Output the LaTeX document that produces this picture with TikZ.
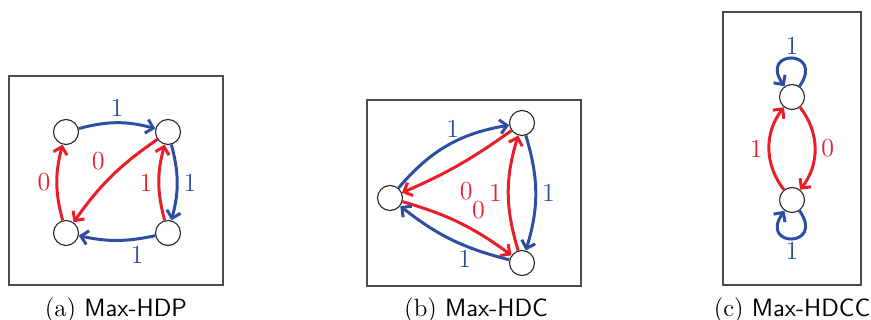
\documentclass[tikz,border=0pt]{standalone}
\usepackage{tikz}
\usetikzlibrary{arrows.meta}
\definecolor{hdblue}{RGB}{46,78,162}
\definecolor{hdred}{RGB}{234,30,40}

\begin{document}
\begin{tikzpicture}[x=0.5pt,y=0.5pt,
  vtx/.style={circle, draw=black!85, line width=0.55pt, minimum size=12.5pt, inner sep=0pt},
  panel/.style={draw=black!70, line width=0.6pt},
  hdarc/.style={line width=1.5pt, -{Straight Barb[length=3.5pt,width=7pt]}},
  bluearc/.style={hdarc, hdblue},
  redarc/.style={hdarc, hdred},
  lbl/.style={font=\fontsize{13}{15}\selectfont, auto, inner sep=2.5pt},
  subcap/.style={font=\fontsize{12.5}{14}\selectfont, anchor=base}]
  % Setup
  \useasboundingbox (0,0) rectangle (871,320);

  % === (a) Max-HDP ===
  \draw[panel] (9,35) rectangle (223,244);
  \node[vtx] (a1) at (66,188) {};
  \node[vtx] (a2) at (168,188) {};
  \node[vtx] (a3) at (66,87) {};
  \node[vtx] (a4) at (168,87) {};
  \draw[bluearc] (a1) to[bend left=15] node[lbl] {1} (a2);
  \draw[bluearc] (a2) to[bend left=15] node[lbl] {1} (a4);
  \draw[bluearc] (a4) to[bend left=12] node[lbl, pos=0.4] {1} (a3);
  \draw[redarc] (a3) to[bend left=15] node[lbl] {0} (a1);
  \draw[redarc] (a4) to[bend left=15] node[lbl] {1} (a2);
  \draw[redarc] (a2) to[bend right=10] node[lbl, swap] {0} (a3);
  \node[subcap] (capa) at (116,3) {(a) \textsf{Max-HDP}};

  % === (b) Max-HDC ===
  \draw[panel] (367,34) rectangle (581,220);
  \node[vtx] (bl) at (390,122) {};
  \node[vtx] (bt) at (522,197) {};
  \node[vtx] (bb) at (522,57) {};
  \draw[bluearc] (bl) to[bend left=20] node[lbl, pos=0.62, inner sep=0pt] {1} (bt);
  \draw[redarc] (bt) to[bend left=6] node[lbl, pos=0.6, inner sep=5pt] {0} (bl);
  \draw[redarc] (bl) to[bend left=10] node[lbl, pos=0.56] {0} (bb);
  \draw[bluearc] (bb) to[bend left=12] node[lbl, pos=0.3, inner sep=0pt] {1} (bl);
  \draw[redarc] (bb) to[bend left=17] node[lbl] {1} (bt);
  \draw[bluearc] (bt) to[bend left=17] node[lbl] {1} (bb);
  \node[subcap] (capb) at (476,3) {(b) \textsf{Max-HDC}};

  % === (c) Max-HDCC ===
  \draw[panel] (723,35) rectangle (861,308);
  \node[vtx] (ct) at (792,223) {};
  \node[vtx] (cb) at (792,120) {};
  \draw[redarc] (ct) to[bend left=38] node[lbl] {0} (cb);
  \draw[redarc] (cb) to[bend left=38] node[lbl] {1} (ct);
  \draw[bluearc] (ct) to[out=55, in=125, loop, min distance=8mm] node[lbl, above, inner sep=1pt] {1} (ct);
  \draw[bluearc] (cb) to[out=-55, in=-125, loop, min distance=8mm] node[lbl, below, inner sep=1pt] {1} (cb);
  \node[subcap] (capc) at (792,3) {(c) \textsf{Max-HDCC}};
\end{tikzpicture}
\end{document}
